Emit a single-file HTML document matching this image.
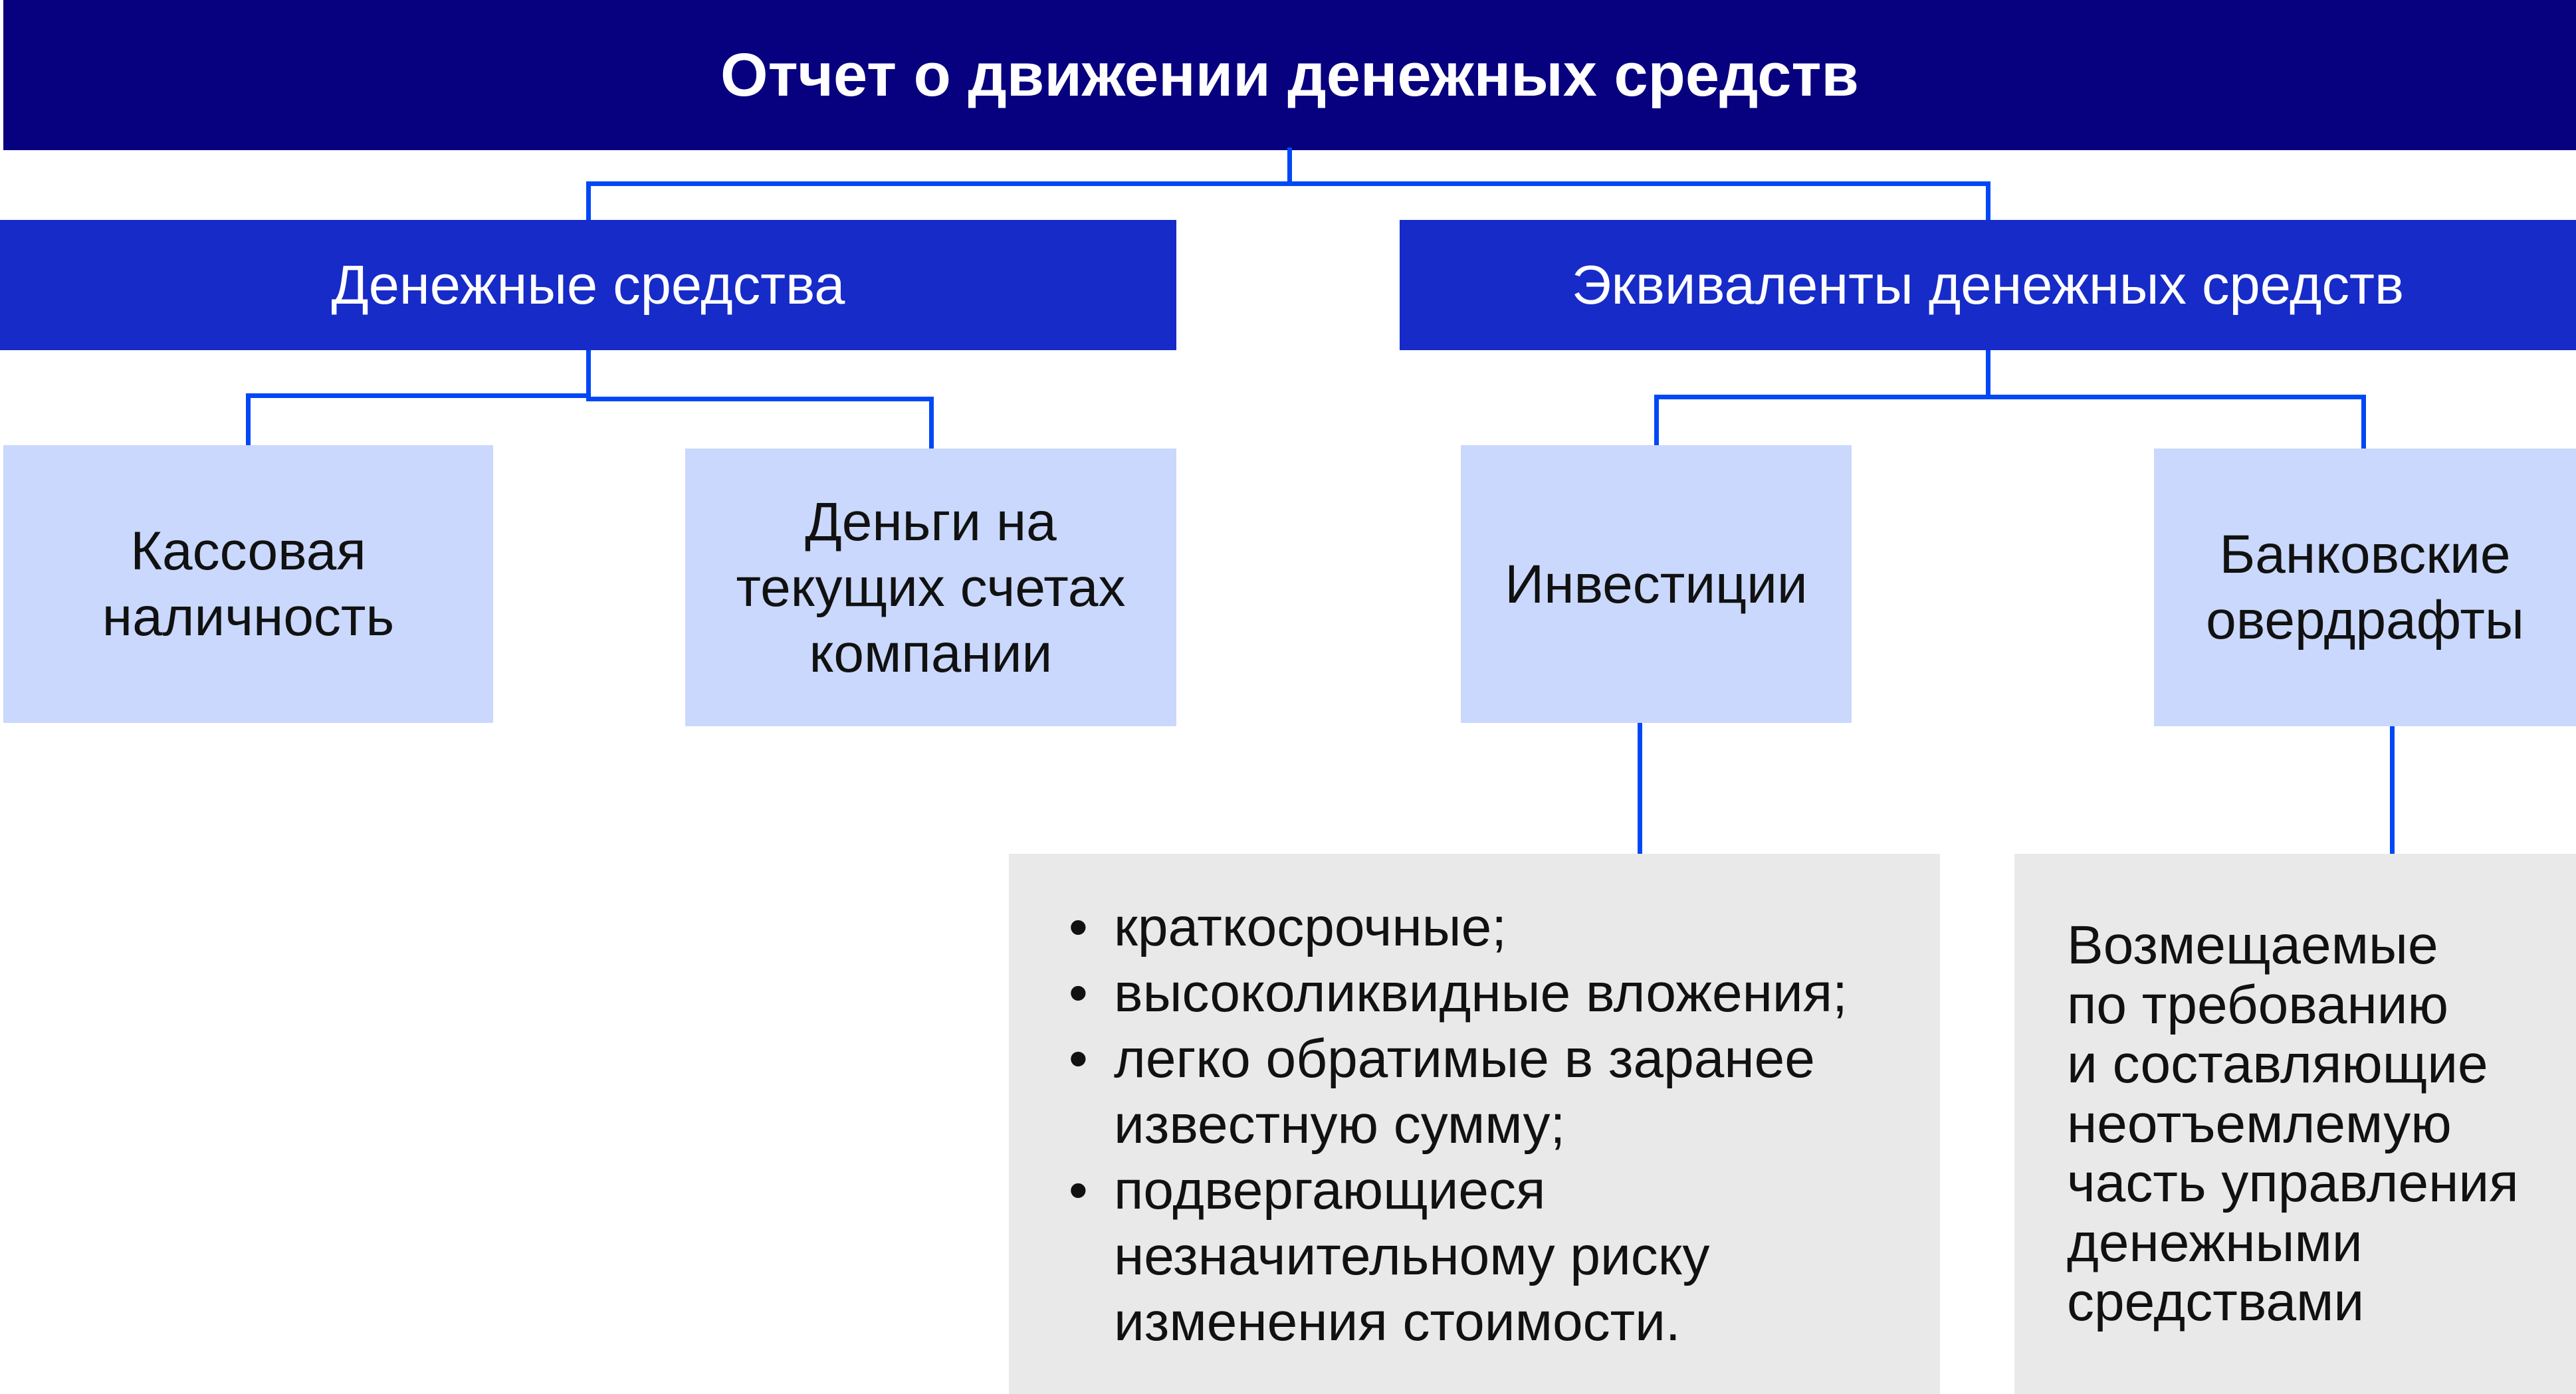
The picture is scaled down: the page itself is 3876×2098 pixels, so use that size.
<!DOCTYPE html>
<html><head><meta charset="utf-8"><style>
*{margin:0;padding:0;box-sizing:border-box}
body{width:3876px;height:2098px;background:#fff;position:relative;overflow:hidden;font-family:"Liberation Sans","Noto Sans CJK SC",sans-serif}
.b{position:absolute;display:flex;align-items:center;justify-content:center;text-align:center}
.l{position:absolute;background:#0048f5}
.t{position:absolute;font-size:82px;line-height:99px;color:#111}
</style></head><body>
<div class="b" style="left:5px;top:0;width:3871px;height:226px;background:#07007f;color:#fff;font-weight:bold;font-size:92px">Отчет о движении денежных средств</div>

<div class="l" style="left:1937px;top:222px;width:7px;height:58px"></div>
<div class="l" style="left:882px;top:273px;width:2112px;height:7px"></div>
<div class="l" style="left:882px;top:273px;width:7px;height:60px"></div>
<div class="l" style="left:2988px;top:273px;width:7px;height:60px"></div>

<div class="b" style="left:0;top:331px;width:1770px;height:196px;background:#162bc8;color:#fff;font-size:83px">Денежные средства</div>
<div class="b" style="left:2106px;top:331px;width:1770px;height:196px;background:#162bc8;color:#fff;font-size:83px">Эквиваленты денежных средств</div>

<div class="l" style="left:882px;top:527px;width:7px;height:70px"></div>
<div class="l" style="left:370px;top:592px;width:515px;height:7px"></div>
<div class="l" style="left:882px;top:597px;width:523px;height:7px"></div>
<div class="l" style="left:370px;top:592px;width:7px;height:80px"></div>
<div class="l" style="left:1398px;top:597px;width:7px;height:80px"></div>

<div class="l" style="left:2988px;top:527px;width:7px;height:72px"></div>
<div class="l" style="left:2489px;top:594px;width:1071px;height:7px"></div>
<div class="l" style="left:2489px;top:594px;width:7px;height:78px"></div>
<div class="l" style="left:3553px;top:594px;width:7px;height:82px"></div>

<div class="b" style="left:5px;top:670px;width:737px;height:418px;background:#c9d8fc;font-size:82px;line-height:99px;color:#111">Кассовая<br>наличность</div>
<div class="b" style="left:1031px;top:675px;width:739px;height:418px;background:#c9d8fc;font-size:82px;line-height:99px;color:#111">Деньги на<br>текущих счетах<br>компании</div>
<div class="b" style="left:2198px;top:670px;width:588px;height:418px;background:#c9d8fc;font-size:82px;line-height:99px;color:#111">Инвестиции</div>
<div class="b" style="left:3241px;top:675px;width:635px;height:418px;background:#c9d8fc;font-size:82px;line-height:99px;color:#111">Банковские<br>овердрафты</div>

<div class="l" style="left:2464px;top:1088px;width:7px;height:197px"></div>
<div class="l" style="left:3596px;top:1093px;width:7px;height:192px"></div>

<div style="position:absolute;left:1518px;top:1285px;width:1401px;height:813px;background:#e9e9e9"></div>
<div style="position:absolute;left:3031px;top:1285px;width:845px;height:813px;background:#e9e9e9"></div>

<div class="t" style="left:1608px;top:1346px">•</div>
<div class="t" style="left:1608px;top:1445px">•</div>
<div class="t" style="left:1608px;top:1544px">•</div>
<div class="t" style="left:1608px;top:1742px">•</div>
<div class="t" style="left:1676px;top:1346px;white-space:nowrap">краткосрочные;<br>высоколиквидные вложения;<br>легко обратимые в заранее<br>известную сумму;<br>подвергающиеся<br>незначительному риску<br>изменения стоимости.</div>

<div class="t" style="left:3110px;top:1378px;line-height:89.5px;white-space:nowrap">Возмещаемые<br>по требованию<br>и составляющие<br>неотъемлемую<br>часть управления<br>денежными<br>средствами</div>
</body></html>
